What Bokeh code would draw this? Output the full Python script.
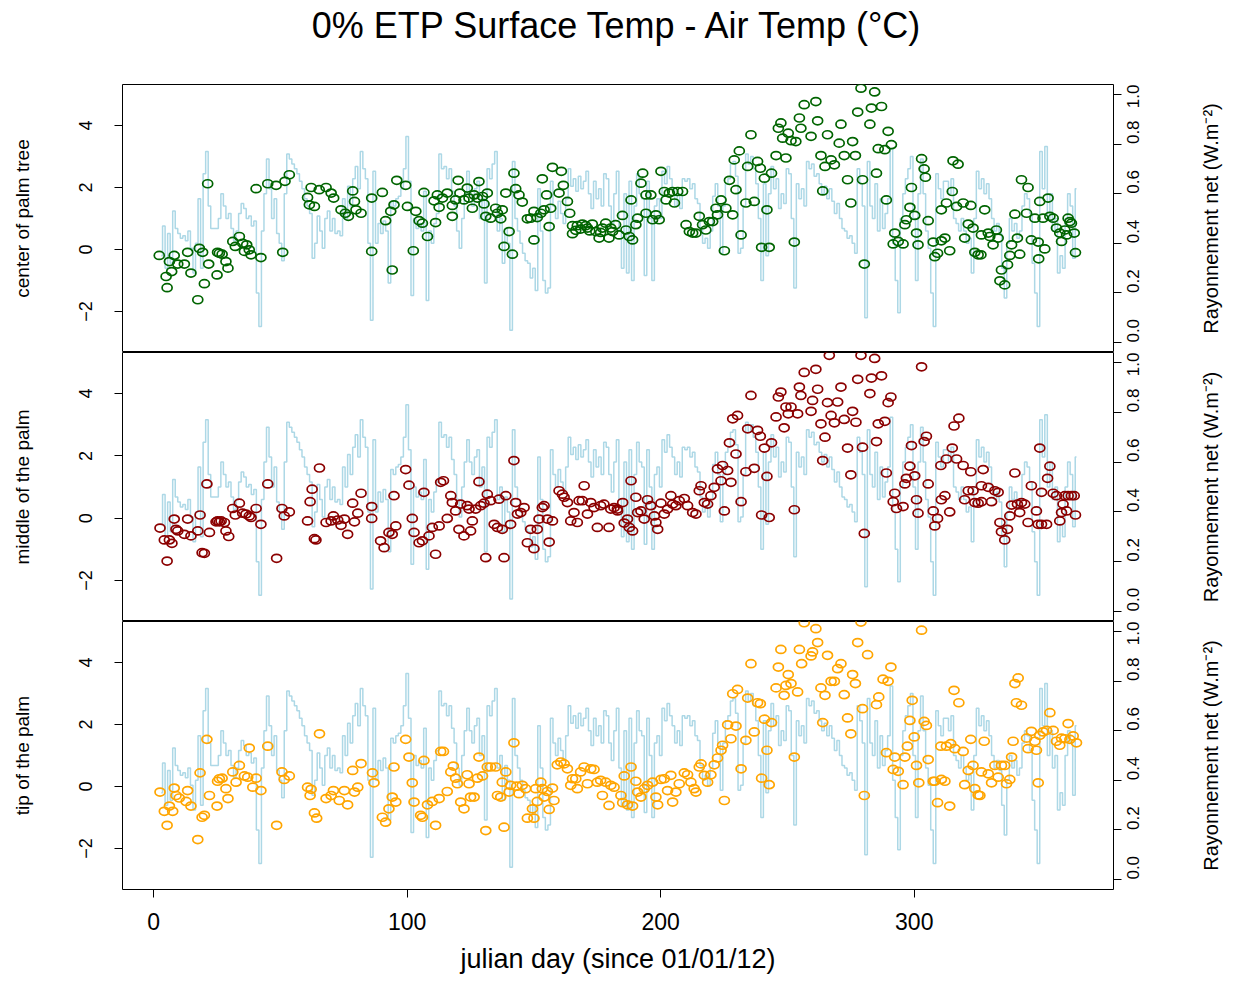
import math
from bokeh.plotting import figure
from bokeh.models import Range1d, LinearAxis, FixedTicker, PrintfTickFormatter
from bokeh.core.properties import value
from bokeh.layouts import column, row
from bokeh.embed import file_html
from bokeh.resources import INLINE

# ---------------- data ----------------
rad_start_day = 3
rad_values = [
    0.35, 0.47, 0.30, 0.44, 0.32, 0.53, 0.46, 0.44, 0.42, 0.43,
    0.41, 0.45, 0.38, 0.28, 0.40, 0.58, 0.30, 0.68, 0.77, 0.55,
    0.46, 0.46, 0.46, 0.50, 0.60, 0.55, 0.50, 0.52, 0.46, 0.41,
    0.45, 0.52, 0.56, 0.54, 0.50, 0.51, 0.47, 0.49, 0.20, 0.065,
    0.45, 0.60, 0.74, 0.62, 0.50, 0.58, 0.44, 0.40, 0.33, 0.60,
    0.76, 0.74, 0.72, 0.70, 0.68, 0.65, 0.62, 0.58, 0.55, 0.52,
    0.34, 0.40, 0.51, 0.45, 0.38, 0.50, 0.53, 0.45, 0.50, 0.44,
    0.45, 0.43, 0.58, 0.50, 0.63, 0.55, 0.66, 0.71, 0.62, 0.77,
    0.70, 0.66, 0.40, 0.09, 0.69, 0.40, 0.48, 0.44, 0.49, 0.45,
    0.24, 0.57, 0.55, 0.58, 0.59, 0.62, 0.70, 0.83, 0.65, 0.19,
    0.50, 0.46, 0.48, 0.45, 0.61, 0.17, 0.45, 0.40, 0.48, 0.52,
    0.76, 0.70, 0.71, 0.66, 0.70, 0.61, 0.55, 0.45, 0.38, 0.50,
    0.60, 0.69, 0.60, 0.55, 0.62, 0.65, 0.50, 0.58, 0.24, 0.70,
    0.66, 0.72, 0.77, 0.45, 0.50, 0.32, 0.46, 0.40, 0.05, 0.73,
    0.50, 0.45, 0.40, 0.36, 0.33, 0.32, 0.26, 0.30, 0.21, 0.62,
    0.45, 0.25, 0.20, 0.22, 0.65, 0.55, 0.50, 0.57, 0.52, 0.48,
    0.58, 0.70, 0.63, 0.66, 0.61, 0.67, 0.62, 0.65, 0.69, 0.60,
    0.54, 0.65, 0.58, 0.62, 0.55, 0.68, 0.66, 0.55, 0.48, 0.60,
    0.69, 0.45, 0.30, 0.60, 0.28, 0.65, 0.25, 0.55, 0.68, 0.60,
    0.58, 0.27, 0.65, 0.50, 0.25, 0.55, 0.58, 0.50, 0.69, 0.64,
    0.71, 0.66, 0.62, 0.55, 0.60, 0.54, 0.66, 0.65, 0.66, 0.62,
    0.64, 0.58, 0.56, 0.46, 0.40, 0.42, 0.38, 0.45, 0.59, 0.64,
    0.55, 0.36, 0.55, 0.64, 0.66, 0.72, 0.73, 0.67, 0.36, 0.38,
    0.55, 0.76, 0.72, 0.75, 0.70, 0.64, 0.50, 0.25, 0.64, 0.35,
    0.60, 0.71, 0.62, 0.66, 0.54, 0.60, 0.56, 0.70, 0.68, 0.50,
    0.22, 0.64, 0.58, 0.62, 0.55, 0.73, 0.70, 0.72, 0.67, 0.68,
    0.64, 0.60, 0.63, 0.58, 0.62, 0.57, 0.52, 0.56, 0.50, 0.46,
    0.45, 0.42, 0.43, 0.40, 0.36, 0.70, 0.64, 0.55, 0.10, 0.73,
    0.55, 0.50, 0.64, 0.45, 0.58, 0.46, 0.52, 0.58, 0.78, 0.40,
    0.25, 0.12, 0.50, 0.60, 0.66, 0.70, 0.75, 0.50, 0.25, 0.60,
    0.74, 0.60, 0.45, 0.38, 0.20, 0.065, 0.68, 0.62, 0.58, 0.65,
    0.65, 0.60, 0.66, 0.50, 0.48, 0.45, 0.50, 0.45, 0.40, 0.42,
    0.28, 0.50, 0.69, 0.62, 0.66, 0.60, 0.64, 0.58, 0.50, 0.45,
    0.48, 0.44, 0.30, 0.18, 0.40, 0.50, 0.45, 0.48, 0.42, 0.45,
    0.55, 0.60, 0.58, 0.52, 0.32, 0.20, 0.065, 0.77, 0.62, 0.79,
    0.50, 0.60, 0.45, 0.50, 0.28, 0.35, 0.30, 0.50, 0.60, 0.55,
    0.34, 0.62,
]
rad_days = list(range(rad_start_day, rad_start_day + len(rad_values)))

center_pts = [
    (2.2,-0.19),(4.9,-0.87),(5.3,-1.23),(6.2,-0.39),(7.1,-0.71),(8.1,-0.19),(9.5,-0.47),(12.1,-0.47),(13.4,-0.09),(14.7,-0.76),
    (17.4,-1.62),(18.0,0.04),(19.3,-0.09),(20.0,-1.10),(21.3,2.12),(21.7,-0.47),(25.0,-0.82),(25.2,-0.09),(25.9,-0.12),(27.0,-0.15),
    (28.5,-0.39),(29.3,-0.60),(31.2,0.26),(32.2,0.10),(33.8,0.42),(35.1,0.20),(35.8,-0.06),(36.7,0.15),(37.7,-0.01),(38.4,-0.17),
    (40.4,1.96),(42.3,-0.26),(45.0,2.12),(48.3,2.07),(50.9,-0.09),(51.8,2.20),(53.5,2.41),(60.7,1.68),(61.4,1.44),(62.1,2.00),
    (63.4,1.39),(65.3,1.93),(68.0,2.00),(70.0,1.82),(71.0,1.66),(73.9,1.28),(75.6,1.17),(76.8,1.07),(78.5,1.89),(79.2,1.55),
    (79.8,1.28),(81.8,1.17),(86.0,1.66),(86.0,-0.06),(90.2,1.84),(91.5,0.93),(93.5,1.23),(94.1,-0.66),(94.8,1.44),(95.9,2.23),
    (99.4,2.07),(100.1,1.39),(102.4,-0.04),(103.4,1.23),(104.7,0.93),(106.0,0.85),(106.6,1.84),(108.0,0.42),(110.6,1.57),(111.2,0.87),
    (111.9,1.76),(112.6,1.36),(113.9,1.66),(115.8,1.82),(117.8,1.07),(117.8,1.42),(119.1,1.60),(120.1,2.23),(120.8,1.82),(122.4,1.60),
    (123.7,1.98),(124.4,1.66),(125.7,1.33),(126.4,1.76),(127.7,1.66),(128.3,2.19),(129.7,1.71),(130.3,1.47),(131.0,1.07),(131.6,1.82),
    (132.9,1.01),(134.9,1.33),(135.6,1.17),(136.9,0.99),(137.5,1.28),(138.2,0.10),(138.9,1.82),(140.2,0.58),(141.5,-0.15),(142.1,2.46),
    (142.8,1.96),(144.1,1.76),(145.4,1.53),(147.4,0.99),(148.7,1.01),(150.0,1.23),(150.0,0.31),(151.3,1.03),(152.7,1.17),(153.3,2.28),
    (154.0,1.28),(155.0,1.76),(156.0,0.74),(156.6,1.33),(157.3,2.65),(159.9,1.82),(160.8,2.52),(161.6,2.07),(163.2,1.55),(164.1,1.17),
    (165.2,0.77),(165.2,0.51),(166.5,0.62),(167.1,0.77),(168.4,0.66),(169.1,0.82),(170.4,0.77),(171.1,0.69),(172.0,0.60),(173.0,0.82),
    (174.4,0.58),(175.7,0.37),(176.3,0.55),(177.0,0.69),(178.3,0.85),(179.6,0.37),(180.3,0.69),(181.0,0.58),(182.2,0.80),(183.6,0.47),
    (184.9,1.10),(186.3,0.63),(187.6,0.42),(188.3,1.60),(188.9,0.31),(190.2,0.80),(190.9,1.01),(192.2,2.14),(192.9,2.46),(194.2,1.76),
    (194.2,1.17),(196.1,1.76),(196.8,0.96),(198.1,1.12),(199.4,0.96),(200.1,2.52),(201.4,1.87),(202.1,1.60),(203.4,1.82),(204.7,1.87),
    (205.4,1.50),(206.7,1.87),(208.6,1.87),(210.0,0.80),(211.3,0.58),(212.6,0.53),(213.9,0.53),(215.2,1.07),(216.5,0.80),(217.8,0.63),
    (219.2,0.90),(220.5,0.90),(221.8,1.33),(222.4,1.12),(223.8,1.60),(225.1,-0.04),(225.7,1.33),(227.1,2.23),(228.4,1.12),(229.0,2.89),
    (229.7,1.93),(231.0,3.18),(231.7,0.47),(233.6,1.50),(234.3,2.68),(235.6,3.70),(236.9,1.55),(238.2,2.84),(239.3,2.62),(239.8,0.07),
    (240.9,2.30),(241.9,1.28),(242.8,0.07),(243.7,2.46),(245.5,3.03),(246.4,3.91),(247.4,4.08),(248.1,3.59),(249.4,2.95),(250.3,3.75),
    (251.4,3.51),(252.7,0.24),(253.3,3.48),(254.7,4.24),(255.3,3.91),(256.6,4.67),(259.3,3.65),(261.2,4.77),(261.9,4.15),(263.2,3.03),
    (263.9,1.89),(264.8,2.68),(265.8,3.70),(267.2,2.89),(268.5,2.73),(270.4,3.43),(271.1,4.04),(272.4,3.03),(273.7,2.25),(275.0,1.50),
    (275.7,3.48),(276.8,3.03),(277.7,4.43),(279.0,5.20),(279.6,2.25),(280.3,-0.47),(282.5,4.04),(283.1,4.56),(284.4,5.08),(285.1,2.46),
    (285.8,3.25),(287.1,4.61),(288.4,3.22),(289.0,1.60),(289.7,3.81),(291.0,3.38),(291.7,0.18),(292.3,0.53),(293.7,0.26),(295.6,0.18),
    (296.3,0.80),(296.9,0.96),(298.3,1.36),(298.9,2.00),(300.2,1.10),(300.9,0.53),(301.5,0.15),(302.9,2.93),(303.9,2.60),(304.4,2.33),
    (305.5,0.93),(307.5,0.24),(308.1,-0.23),(309.2,-0.12),(310.7,0.28),(310.7,1.28),(312.1,0.37),(312.7,1.50),(314.0,-0.04),(315.0,1.87),
    (315.3,2.86),(316.7,1.39),(317.3,2.75),(319.3,1.50),(319.9,0.37),(321.3,0.82),(322.3,1.42),(323.2,0.69),(323.9,-0.09),(325.2,-0.17),
    (326.3,-0.17),(326.5,0.47),(327.8,1.28),(329.2,0.53),(329.8,0.42),(331.1,0.15),(332.4,0.63),(333.1,0.37),(333.8,-1.01),(334.4,-0.66),
    (335.7,-1.14),(336.8,-0.49),(337.7,-0.19),(338.4,0.15),(339.7,1.14),(340.7,0.37),(341.6,-0.15),(342.3,2.25),(344.3,1.17),(344.9,2.00),
    (346.2,0.31),(347.6,1.01),(348.9,0.24),(349.1,-0.30),(349.5,1.55),(350.8,1.01),(351.5,0.02),(352.8,1.66),(353.5,1.07),(354.8,1.01),
    (356.1,0.69),(357.4,0.53),(358.1,0.26),(359.4,0.63),(360.1,0.47),(360.7,1.01),(361.4,0.90),(362.0,0.85),(363.1,0.53),(363.6,-0.10),
]

middle_pts = [
    (2.5,-0.32),(4.2,-0.70),(5.3,-1.38),(6.2,-0.70),(7.2,-0.81),(8.1,-0.03),(8.8,-0.36),(9.5,-0.41),(12.1,-0.52),(13.4,-0.03),
    (14.7,-0.57),(17.4,-0.41),(18.3,0.10),(19.1,-1.11),(20.0,-1.13),(21.0,1.10),(22.0,-0.46),(24.6,-0.12),(25.2,-0.09),(25.9,-0.12),
    (26.6,-0.09),(27.9,-0.14),(28.5,-0.41),(29.6,-0.59),(31.2,0.31),(32.2,0.10),(33.8,0.48),(35.1,0.16),(36.4,0.13),(37.7,0.07),
    (38.4,0.02),(40.4,0.31),(42.3,-0.20),(45.0,1.10),(48.5,-1.29),(50.6,0.31),(51.5,0.07),(53.5,0.20),(60.7,-0.09),(61.7,0.53),
    (62.5,0.93),(63.4,-0.66),(64.0,-0.70),(65.4,1.61),(68.0,-0.14),(70.0,-0.09),(70.9,0.07),(72.6,-0.06),(73.9,-0.23),(75.2,-0.03),
    (76.5,-0.52),(78.5,0.48),(79.2,-0.12),(80.5,0.16),(81.8,0.80),(86.0,0.37),(86.0,-0.01),(89.5,-0.73),(90.9,-0.95),(92.8,-0.46),
    (94.1,-0.52),(94.8,0.72),(95.5,-0.25),(99.4,1.56),(100.7,1.06),(102.0,-0.01),(102.7,-0.46),(104.7,-0.79),(106.0,-0.73),(106.6,0.83),
    (108.6,-0.57),(109.9,-0.30),(111.2,-1.16),(112.6,-0.25),(113.2,1.15),(114.3,1.20),(115.8,-0.01),(117.2,0.72),(117.8,0.50),(119.1,0.23),
    (120.4,-0.36),(121.1,0.45),(122.4,-0.57),(123.7,0.40),(124.4,0.29),(125.0,-0.41),(125.7,-0.09),(127.0,0.29),(128.3,1.17),(129.0,0.40),
    (130.3,0.48),(131.0,-1.27),(131.6,0.77),(132.9,0.56),(134.3,-0.20),(135.6,-0.30),(136.2,0.61),(137.5,-0.36),(138.2,-1.27),(138.9,0.72),
    (140.8,-0.20),(142.1,1.85),(142.8,0.50),(143.5,0.13),(144.8,0.18),(146.1,0.34),(147.4,-0.79),(148.7,-0.36),(150.0,-0.98),(151.3,-0.36),
    (152.0,-0.03),(153.3,0.34),(154.0,0.40),(155.3,-0.03),(156.0,-0.77),(157.3,-0.09),(159.9,0.88),(161.2,0.77),(161.9,0.67),(163.2,0.50),
    (164.5,-0.09),(165.8,0.18),(167.1,-0.14),(167.8,0.56),(169.1,0.56),(169.8,1.04),(171.1,0.13),(172.4,0.50),(173.7,0.34),(175.0,-0.30),
    (176.3,0.40),(177.6,0.45),(179.6,-0.30),(180.3,0.29),(181.6,0.34),(182.9,0.29),(183.0,0.23),(185.0,0.50),(185.6,-0.16),(186.9,-0.03),
    (187.6,-0.30),(188.3,1.20),(188.9,-0.41),(190.2,0.67),(190.9,0.18),(192.2,0.23),(193.5,-0.03),(194.8,0.59),(196.1,0.40),(197.5,0.07),
    (198.1,-0.14),(198.8,-0.36),(200.1,0.48),(201.4,0.13),(202.7,0.29),(204.0,0.72),(204.7,0.45),(206.0,0.40),(207.3,0.56),(209.3,0.63),
    (210.6,0.40),(212.6,0.18),(213.9,0.13),(215.2,0.88),(215.9,1.04),(217.2,0.50),(218.5,0.45),(219.8,0.72),(221.1,0.99),(222.4,1.58),
    (223.8,1.20),(224.4,1.69),(225.1,0.23),(226.4,1.53),(227.1,2.42),(227.7,1.15),(228.4,3.19),(229.7,2.06),(230.3,3.30),(231.7,0.53),
    (233.6,1.49),(234.3,2.87),(235.6,3.94),(236.9,1.60),(238.2,2.82),(239.3,2.63),(239.8,0.10),(240.9,2.25),(241.9,1.34),(242.8,0.02),
    (243.7,2.42),(245.5,3.25),(246.4,3.89),(247.4,4.05),(248.7,2.90),(249.4,3.57),(250.3,3.35),(251.4,3.57),(252.7,0.27),(254.0,3.35),
    (254.7,4.21),(255.3,3.94),(256.6,4.68),(259.3,3.43),(259.9,3.78),(261.2,4.78),(261.9,4.14),(263.2,3.03),(263.9,1.85),(264.8,2.60),
    (265.8,3.71),(266.5,5.23),(267.2,3.30),(268.5,3.06),(269.8,3.73),(271.1,4.21),(272.4,3.17),(273.7,2.25),(275.0,1.39),(275.7,3.43),
    (277.0,3.08),(277.7,4.46),(279.0,5.23),(279.6,2.28),(280.3,-0.49),(282.5,4.00),(283.1,4.50),(284.4,5.13),(285.1,2.46),(285.8,3.03),
    (287.1,4.57),(288.4,3.11),(289.0,1.45),(289.7,3.71),(290.8,3.89),(291.7,0.53),(292.3,0.80),(293.0,0.31),(295.6,0.37),(296.3,1.10),
    (296.9,1.28),(298.3,1.67),(298.9,2.33),(300.2,1.36),(300.9,0.59),(301.5,0.16),(302.9,4.86),(303.9,2.46),(304.8,2.63),(305.5,1.10),
    (307.5,0.23),(308.1,-0.25),(309.2,-0.01),(310.5,1.69),(310.7,0.59),(312.1,0.72),(312.7,1.90),(314.0,0.20),(315.0,2.25),(315.7,2.96),
    (316.7,1.90),(317.6,3.21),(319.3,1.69),(319.9,0.59),(321.3,0.88),(322.3,1.49),(323.2,0.88),(323.9,0.50),(325.2,0.48),(326.5,0.53),
    (326.5,1.04),(327.2,1.56),(329.2,0.99),(330.5,0.53),(331.8,0.88),(333.1,0.83),(333.8,-0.14),(334.4,-0.44),(335.7,-0.70),(336.8,-0.36),
    (337.7,0.07),(338.4,0.42),(339.7,1.45),(340.7,0.45),(341.6,0.18),(342.3,0.50),(343.6,0.45),(344.9,-0.14),(346.2,1.04),(348.2,0.23),
    (348.9,-0.20),(349.5,2.25),(350.2,-0.20),(350.2,0.83),(352.2,-0.20),(352.6,1.28),(353.5,1.67),(354.8,0.80),(356.1,0.72),(357.4,-0.09),
    (358.1,0.18),(358.7,0.45),(359.4,0.72),(360.1,0.23),(360.7,0.72),(362.0,0.72),(363.1,0.72),(363.6,0.10),
]

tip_pts = [
    (2.5,-0.18),(4.2,-0.80),(5.3,-1.25),(6.2,-0.63),(7.5,-0.80),(8.1,-0.05),(8.8,-0.29),(10.1,-0.37),(12.8,-0.48),(13.4,-0.13),
    (14.7,-0.63),(17.4,-1.71),(18.3,0.44),(19.1,-0.99),(20.0,-0.93),(21.0,1.52),(22.0,-0.29),(25.0,-0.63),(25.2,0.17),(25.9,0.25),
    (27.0,0.27),(28.5,-0.07),(29.3,-0.39),(31.2,0.47),(32.5,0.14),(33.8,0.68),(35.8,0.34),(37.1,0.30),(37.7,1.24),(39.1,-0.02),
    (40.4,0.27),(42.3,-0.13),(45.0,1.30),(48.5,-1.25),(50.6,0.47),(51.5,0.23),(53.5,0.34),(60.7,-0.02),(61.7,-0.29),(62.1,-0.09),
    (63.4,-0.85),(64.3,-1.02),(65.4,1.70),(68.0,-0.39),(70.0,-0.29),(70.9,-0.13),(73.2,-0.45),(75.2,-0.13),(76.5,-0.59),(78.5,0.52),
    (79.2,-0.18),(80.5,-0.02),(81.8,0.74),(86.3,0.44),(86.9,0.12),(90.2,-0.99),(91.5,-1.15),(92.8,-0.72),(94.1,-0.34),(94.8,0.63),
    (95.5,-0.50),(99.4,1.52),(100.7,0.95),(102.0,0.12),(102.7,-0.50),(105.3,-0.93),(106.0,-0.99),(106.6,0.84),(108.0,-0.59),(109.9,-0.48),
    (111.2,-1.25),(112.6,-0.39),(113.2,1.13),(114.3,1.13),(115.8,-0.16),(117.2,0.47),(118.2,0.66),(119.1,0.27),(119.8,0.09),(121.1,-0.50),
    (122.4,-0.72),(123.7,0.38),(124.4,0.09),(125.0,-0.34),(126.4,-0.34),(127.7,0.27),(128.3,0.95),(129.7,0.34),(131.0,-1.42),(131.6,0.63),
    (132.9,0.63),(134.9,0.63),(135.6,-0.29),(136.9,-0.34),(137.5,0.14),(138.2,-1.31),(138.9,0.47),(140.2,-0.18),(140.8,0.04),(142.1,1.41),
    (143.2,0.01),(144.1,-0.23),(145.4,0.04),(146.7,-0.07),(147.4,-1.02),(149.4,-0.72),(150.0,-1.02),(150.7,-0.07),(151.3,-0.48),(152.7,0.14),
    (153.3,-0.07),(154.0,-0.34),(155.3,-0.16),(156.0,-0.74),(157.3,-0.05),(157.9,-0.45),(159.2,0.70),(160.6,0.79),(161.9,0.73),(163.2,0.57),
    (164.5,0.04),(165.2,0.25),(166.5,0.25),(167.1,-0.07),(168.4,0.47),(169.8,0.63),(171.1,0.09),(172.4,0.57),(173.7,0.55),(175.0,0.14),
    (176.3,0.20),(177.0,-0.29),(178.3,0.14),(179.6,-0.61),(180.3,0.04),(181.6,-0.02),(184.3,-0.29),(185.0,-0.52),(185.6,0.34),(186.9,-0.59),
    (188.3,0.63),(188.9,-0.63),(190.2,0.17),(190.9,-0.18),(192.2,-0.34),(193.5,-0.07),(194.8,0.04),(196.8,0.14),(198.1,-0.34),(198.8,-0.59),
    (200.1,0.23),(201.4,0.25),(202.7,-0.13),(204.0,0.36),(204.7,-0.50),(206.0,-0.18),(207.3,0.09),(209.3,0.44),(210.6,0.38),(211.9,0.14),
    (213.2,-0.07),(213.9,-0.18),(215.2,0.63),(215.9,0.73),(217.2,0.36),(218.5,0.14),(219.8,0.38),(221.1,0.70),(222.4,0.92),(223.8,1.17),
    (224.4,1.33),(225.1,-0.45),(226.4,1.99),(227.7,1.54),(228.4,2.99),(229.7,1.95),(230.3,3.13),(231.7,0.57),(233.6,1.49),(234.3,2.85),
    (235.6,3.96),(236.9,1.76),(238.2,2.70),(239.3,2.67),(239.8,0.27),(240.9,2.17),(241.9,1.17),(242.8,0.06),(243.7,2.06),(245.5,3.18),
    (246.4,3.85),(247.4,4.42),(248.7,2.94),(249.4,3.26),(250.3,3.61),(251.4,3.32),(252.7,0.95),(254.0,3.05),(254.7,4.42),(255.6,3.96),
    (256.6,5.28),(259.3,4.21),(259.9,4.34),(261.2,5.09),(261.9,4.64),(263.2,3.18),(263.9,2.06),(264.8,2.94),(265.8,4.23),(267.2,3.39),
    (268.5,3.39),(269.8,3.80),(271.1,3.96),(272.4,2.96),(273.7,2.21),(275.0,1.70),(275.7,3.61),(276.8,3.32),(277.7,4.64),(279.0,5.30),
    (279.6,2.51),(280.3,-0.29),(281.6,4.25),(285.1,2.64),(286.0,2.89),(287.7,3.46),(289.0,1.09),(289.7,3.39),(290.8,3.85),(291.7,0.55),
    (292.3,0.95),(293.7,0.49),(295.6,0.06),(296.3,0.95),(297.3,1.30),(298.3,2.13),(299.2,2.78),(300.0,1.60),(300.9,0.68),(301.8,0.12),
    (302.9,5.04),(303.9,2.10),(304.8,1.97),(305.5,0.87),(307.5,0.17),(308.1,0.17),(309.2,-0.52),(310.5,1.30),(310.7,0.23),(312.1,0.17),
    (312.7,1.30),(314.0,-0.63),(314.4,1.38),(315.7,3.10),(316.0,1.22),(317.6,2.70),(319.3,1.13),(319.9,0.06),(321.3,0.52),(322.3,1.52),
    (323.2,0.68),(323.9,-0.07),(325.2,-0.27),(325.9,-0.29),(326.5,0.47),(327.6,1.46),(329.2,0.41),(330.5,0.12),(331.8,0.68),(333.1,0.30),
    (334.4,0.68),(335.7,0.68),(336.4,0.09),(337.7,0.23),(338.4,0.95),(339.0,1.46),(339.7,3.32),(340.3,2.70),(341.0,3.50),(342.3,2.62),
    (344.3,1.56),(344.9,1.22),(346.2,1.78),(347.6,1.46),(348.2,1.17),(348.9,0.12),(349.5,1.65),(350.8,1.76),(352.2,1.81),(353.5,2.38),
    (354.8,1.81),(356.1,1.46),(357.4,1.33),(358.1,1.56),(359.4,1.54),(360.7,2.03),(361.4,1.52),(362.7,1.63),(364.0,1.41),
]

panel_labels = ["center of palm tree", "middle of the palm", "tip of the palm"]
panel_colors = ["#006400", "#8B0000", "#FFA500"]
title_text = "0% ETP Surface Temp - Air Temp (\u00b0C)"
x_label = "julian day (since 01/01/12)"
right_label = "Rayonnement net (W.m\u207b\u00b2)"
x_ticks = [0, 100, 200, 300]
y_ticks = [-2, 0, 2, 4]
rad_ticks = [0.0, 0.2, 0.4, 0.6, 0.8, 1.0]

# ---------------- plotting ----------------
FONT = "Liberation Sans"
XR = (-12.3, 378.6)
YR = (-3.32, 5.32)
RR = (-0.04, 1.04)
LEFT, RIGHT, FRAME_W = 122, 80, 991
TOP = 84
FRAME_H = [268, 269, 268]
BOTTOM = 91
TOTAL_H = TOP + sum(FRAME_H) + BOTTOM
SIDE_W = 38


def style_axis(ax):
    ax.axis_line_color = None
    ax.major_tick_line_color = "black"
    ax.major_tick_line_width = 1
    ax.major_tick_in = 0
    ax.major_tick_out = 8
    ax.minor_tick_line_color = None
    ax.major_label_text_font = FONT
    ax.major_label_text_color = "black"
    ax.axis_label_text_font = FONT
    ax.axis_label_text_font_style = "normal"
    ax.axis_label_text_color = "black"


def make_panel(pts, color, label, frame_h, top, bottom, show_x):
    p = figure(frame_width=FRAME_W, frame_height=frame_h,
               x_range=Range1d(*XR), y_range=Range1d(*YR),
               output_backend="svg", toolbar_location=None,
               x_axis_location="below" if show_x else None,
               y_axis_location="left",
               min_border_left=LEFT, min_border_right=RIGHT,
               min_border_top=top, min_border_bottom=bottom)
    p.extra_y_ranges = {"rad": Range1d(*RR)}
    p.xgrid.visible = False
    p.ygrid.visible = False
    p.outline_line_color = "black"
    p.outline_line_width = 1
    p.outline_line_alpha = 1
    p.background_fill_color = "white"
    p.border_fill_color = "white"

    yax = p.yaxis[0]
    style_axis(yax)
    yax.ticker = FixedTicker(ticks=y_ticks)
    yax.major_label_orientation = "parallel"
    yax.major_label_text_font_size = "18px"
    yax.major_label_standoff = 22
    yax.axis_label = label
    yax.axis_label_text_font_size = "19px"
    yax.axis_label_standoff = 44

    rax = LinearAxis(y_range_name="rad", ticker=FixedTicker(ticks=rad_ticks),
                     formatter=PrintfTickFormatter(format="%.1f"))
    style_axis(rax)
    rax.major_label_orientation = math.pi / 2
    rax.major_label_text_font_size = "17px"
    rax.major_label_standoff = 12
    p.add_layout(rax, "right")

    if show_x:
        xax = p.xaxis[0]
        style_axis(xax)
        xax.ticker = FixedTicker(ticks=x_ticks)
        xax.major_label_text_font_size = "23px"
        xax.major_label_standoff = 15
        xax.axis_label = x_label
        xax.axis_label_text_font_size = "27px"
        xax.axis_label_standoff = 11

    p.step(rad_days, rad_values, mode="center", line_color="#ADD8E6",
           line_width=1.5, y_range_name="rad")
    xs = [d for d, v in pts]
    ys = [v for d, v in pts]
    p.ellipse(x=xs, y=ys, width=10, height=8, width_units="screen",
              height_units="screen", fill_color=None, line_color=color,
              line_width=1.7)
    return p


# title strip above the first panel
p0 = figure(frame_width=FRAME_W, frame_height=TOP,
            x_range=Range1d(0, 1), y_range=Range1d(0, TOP),
            output_backend="svg", toolbar_location=None,
            x_axis_location=None, y_axis_location=None,
            min_border_left=LEFT, min_border_right=RIGHT,
            min_border_top=0, min_border_bottom=0)
p0.outline_line_color = None
p0.grid.visible = False
p0.text(x=[0.5], y=[TOP - 25], text=[title_text], text_align="center",
        text_baseline="middle", text_font=value(FONT),
        text_font_size=value("36px"), text_color="black")

p1 = make_panel(center_pts, panel_colors[0], panel_labels[0], FRAME_H[0], 0, 0, False)
p2 = make_panel(middle_pts, panel_colors[1], panel_labels[1], FRAME_H[1], 0, 0, False)
p3 = make_panel(tip_pts, panel_colors[2], panel_labels[2], FRAME_H[2], 0, BOTTOM, True)

# strip on the right holding the right-hand axis title of each panel
side = figure(frame_width=SIDE_W, frame_height=TOTAL_H,
              x_range=Range1d(0, SIDE_W), y_range=Range1d(0, TOTAL_H),
              output_backend="svg", toolbar_location=None,
              x_axis_location=None, y_axis_location=None, min_border=0)
side.outline_line_color = None
side.grid.visible = False
centers = []
acc = TOP
for h in FRAME_H:
    centers.append(TOTAL_H - (acc + h / 2))
    acc += h
side.text(x=[17] * 3, y=centers, text=[right_label] * 3, angle=math.pi / 2,
          text_align="center", text_baseline="middle", text_font=value(FONT),
          text_font_size=value("20px"), text_color="black")

layout = row(column(p0, p1, p2, p3, spacing=0), side, spacing=0)
open("out.html", "w").write(file_html(layout, INLINE))
